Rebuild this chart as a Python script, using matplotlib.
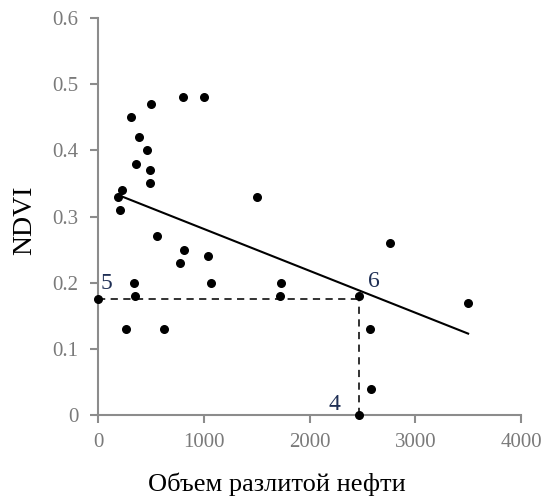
import matplotlib
matplotlib.use("Agg")
import matplotlib.pyplot as plt
import numpy as np

# Data
oil_volume = [800, 1000, 500, 310, 390, 465, 355, 495, 495, 230, 190, 210, 1500, 560,
              810, 780, 1040, 1065, 345, 350, 0, 265, 620, 2760, 1730, 1720, 2470,
              2575, 3500, 2580, 2470]
ndvi = [0.48, 0.48, 0.47, 0.45, 0.42, 0.40, 0.38, 0.37, 0.35, 0.34, 0.33, 0.31, 0.33, 0.27,
        0.25, 0.23, 0.24, 0.20, 0.20, 0.18, 0.175, 0.13, 0.13, 0.26, 0.20, 0.18, 0.18,
        0.13, 0.17, 0.04, 0.0]
trend_x = [230, 3500]
trend_y = [0.33, 0.123]
ref_x = 2470
ref_y = 0.175
x_ticks = [0, 1000, 2000, 3000, 4000]
y_ticks = [0, 0.1, 0.2, 0.3, 0.4, 0.5, 0.6]
y_tick_labels = ["0", "0.1", "0.2", "0.3", "0.4", "0.5", "0.6"]

plt.rcParams['font.family'] = ['Liberation Serif', 'DejaVu Serif']

fig = plt.figure(figsize=(5.48, 5.01), dpi=100)
ax = fig.add_axes([98/548, 86/501, (521-98)/548, (415-18)/501])

grey = '#8c8c8c'
ax.scatter(oil_volume, ndvi, s=30, color='black', zorder=3, clip_on=False)
ax.plot(trend_x, trend_y, color='black', lw=1.5, zorder=2)
ax.plot([0, ref_x], [ref_y, ref_y], color='#222222', lw=1.3, ls=(0, (4, 3)), zorder=2)
ax.plot([ref_x, ref_x], [0, ref_y], color='#222222', lw=1.3, ls=(0, (4, 3)), zorder=2)

label_color = '#1f2f55'
ax.text(28, 0.19, "5", fontsize=17, color=label_color, ha='left', va='baseline')
ax.text(2553, 0.193, "6", fontsize=17, color=label_color, ha='left', va='baseline')
ax.text(2288, 0.0075, "4", fontsize=17, color=label_color, ha='right', va='baseline')

ax.set_xlim(0, 4000)
ax.set_ylim(0, 0.6)
ax.set_xticks(x_ticks)
ax.set_yticks(y_ticks)
ax.set_yticklabels(y_tick_labels)
for s in ['top', 'right']:
    ax.spines[s].set_visible(False)
for s in ['left', 'bottom']:
    ax.spines[s].set_color(grey)
    ax.spines[s].set_linewidth(1.5)
ax.tick_params(axis='both', colors=grey, labelcolor='#7a7a7a', labelsize=15,
               direction='out', length=6, width=1.5)
ax.tick_params(axis='x', pad=7)
ax.tick_params(axis='y', pad=8)

ax.set_ylabel("NDVI", fontsize=20)
ax.yaxis.set_label_coords(-61/423, 0.49)
ax.set_xlabel("Объем разлитой нефти", fontsize=19)
ax.xaxis.set_label_coords((277-98)/(521-98), -58/397)

fig.savefig("out.png", dpi=100)
